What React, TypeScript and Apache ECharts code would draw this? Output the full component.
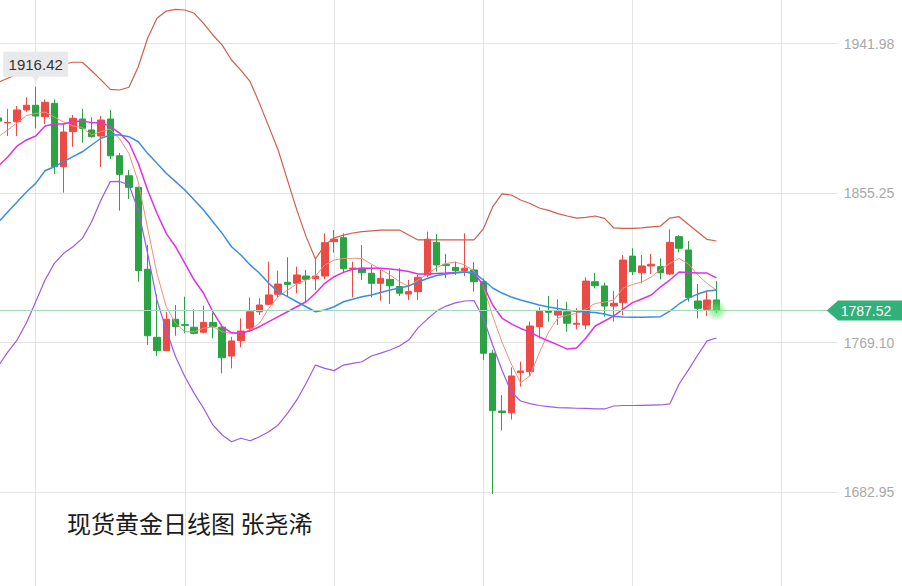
import React, { useEffect, useRef } from "react";
import * as echarts from "echarts";

// [open, close, lowest, highest]
const CANDLES: number[][] = [
  [1898.5, 1896.7, 1896.2, 1899.0],
  [1895.6, 1895.9, 1888.1, 1903.7],
  [1896.3, 1903.1, 1888.1, 1905.4],
  [1903.1, 1905.8, 1902.1, 1910.4],
  [1905.8, 1899.6, 1892.5, 1916.42],
  [1899.2, 1907.5, 1895.0, 1909.2],
  [1906.9, 1870.4, 1866.2, 1909.2],
  [1870.4, 1890.4, 1855.4, 1895.4],
  [1890.6, 1898.3, 1881.9, 1900.2],
  [1897.9, 1892.5, 1884.2, 1903.7],
  [1891.6, 1887.7, 1887.2, 1898.9],
  [1888.1, 1897.3, 1870.1, 1899.6],
  [1897.9, 1876.7, 1874.7, 1903.1],
  [1876.7, 1866.0, 1845.1, 1878.3],
  [1865.2, 1858.5, 1851.8, 1868.5],
  [1858.5, 1810.5, 1804.1, 1858.9],
  [1811.3, 1773.0, 1767.7, 1825.3],
  [1772.1, 1764.4, 1761.3, 1796.9],
  [1764.4, 1782.5, 1764.2, 1786.8],
  [1782.5, 1778.2, 1773.0, 1790.7],
  [1779.4, 1779.0, 1774.4, 1795.5],
  [1777.9, 1774.4, 1773.8, 1788.2],
  [1775.0, 1780.7, 1774.4, 1790.3],
  [1780.7, 1778.2, 1771.5, 1786.3],
  [1777.9, 1760.3, 1751.3, 1778.2],
  [1761.3, 1770.0, 1754.2, 1772.4],
  [1770.1, 1775.7, 1766.3, 1783.0],
  [1777.3, 1786.8, 1775.3, 1795.1],
  [1786.8, 1790.7, 1784.9, 1794.6],
  [1791.1, 1796.5, 1790.7, 1815.7],
  [1796.9, 1802.8, 1795.1, 1810.5],
  [1803.8, 1802.6, 1795.5, 1818.2],
  [1803.2, 1808.0, 1797.5, 1812.8],
  [1807.4, 1805.5, 1792.3, 1810.9],
  [1805.9, 1807.4, 1799.3, 1817.0],
  [1807.4, 1826.6, 1805.5, 1832.0],
  [1827.2, 1828.7, 1820.9, 1833.9],
  [1829.5, 1811.6, 1809.0, 1832.0],
  [1811.5, 1812.0, 1795.1, 1815.7],
  [1811.9, 1809.3, 1805.1, 1825.3],
  [1809.0, 1803.2, 1795.1, 1813.8],
  [1803.2, 1806.1, 1793.2, 1810.9],
  [1805.5, 1801.8, 1791.3, 1810.5],
  [1801.3, 1797.5, 1795.9, 1811.9],
  [1797.0, 1798.4, 1793.6, 1805.1],
  [1798.4, 1806.7, 1793.6, 1808.0],
  [1808.0, 1828.6, 1806.7, 1833.0],
  [1826.8, 1813.8, 1809.9, 1831.6],
  [1814.2, 1813.4, 1806.1, 1820.1],
  [1812.4, 1810.5, 1808.0, 1815.7],
  [1810.5, 1811.9, 1807.4, 1832.0],
  [1810.9, 1804.1, 1798.4, 1815.5],
  [1804.1, 1762.9, 1759.0, 1806.0],
  [1762.9, 1729.8, 1681.8, 1764.8],
  [1729.6, 1728.8, 1718.4, 1738.8],
  [1728.6, 1749.8, 1724.7, 1754.7],
  [1751.7, 1752.7, 1743.7, 1758.0],
  [1752.3, 1778.6, 1749.4, 1781.1],
  [1778.2, 1787.2, 1771.5, 1789.4],
  [1787.2, 1786.5, 1781.1, 1795.9],
  [1784.9, 1787.2, 1779.2, 1794.0],
  [1786.8, 1780.2, 1775.3, 1792.6],
  [1779.6, 1780.2, 1776.7, 1788.8],
  [1779.2, 1804.5, 1776.7, 1806.7],
  [1804.1, 1801.8, 1800.3, 1809.3],
  [1801.7, 1790.1, 1784.0, 1803.6],
  [1790.1, 1791.7, 1781.1, 1798.8],
  [1792.0, 1816.6, 1784.9, 1819.5],
  [1818.9, 1809.9, 1808.0, 1823.4],
  [1809.3, 1813.2, 1803.2, 1819.5],
  [1813.2, 1814.2, 1808.6, 1820.1],
  [1812.8, 1809.3, 1805.5, 1817.6],
  [1808.6, 1826.8, 1808.0, 1834.3],
  [1830.1, 1823.4, 1821.1, 1831.0],
  [1822.4, 1795.1, 1792.6, 1827.6],
  [1793.0, 1788.8, 1783.0, 1802.8],
  [1788.2, 1793.6, 1784.4, 1799.0],
  [1793.6, 1787.52, 1786.1, 1804.5],
];

const MA5 = [
  1887.7, 1891.6, 1895.6, 1899.9, 1901.1, 1901.9, 1899.0, 1896.2, 1893.9, 1893.0,
  1888.7, 1890.6, 1892.1, 1886.4, 1878.1, 1861.6, 1835.1, 1809.0, 1789.7, 1780.2,
  1775.3, 1775.3, 1777.3, 1778.2, 1775.3, 1774.4, 1774.4, 1776.3, 1780.2, 1788.8,
  1795.5, 1799.3, 1802.8, 1805.1, 1807.4, 1813.8, 1816.6, 1817.6, 1817.6, 1817.5,
  1814.3, 1811.2, 1808.0, 1804.2, 1801.4, 1805.1, 1808.6, 1812.3, 1814.6, 1815.5,
  1813.8, 1810.3, 1801.7, 1784.4, 1769.4, 1756.7, 1745.8, 1749.8, 1763.0, 1775.1,
  1783.2, 1784.9, 1785.8, 1788.4, 1791.6, 1792.4, 1793.6, 1800.5, 1802.5, 1804.0,
  1806.8, 1811.2, 1814.6, 1817.5, 1814.3, 1808.0, 1803.1, 1799.3,
];

const MA10 = [
  1870.8, 1876.0, 1882.3, 1885.8, 1888.1, 1893.9, 1895.0, 1895.0, 1896.5, 1896.7,
  1895.8, 1895.8, 1893.5, 1889.8, 1884.2, 1872.4, 1857.0, 1843.6, 1832.0, 1824.3,
  1814.7, 1805.1, 1797.5, 1786.8, 1778.2, 1774.7, 1774.4, 1775.9, 1778.2, 1781.1,
  1784.0, 1786.8, 1789.7, 1792.6, 1797.5, 1803.2, 1807.0, 1809.5, 1811.3, 1811.9,
  1811.9, 1811.9, 1811.5, 1810.9, 1810.0, 1808.6, 1808.6, 1808.9, 1809.1, 1809.4,
  1809.7, 1808.9, 1802.2, 1790.7, 1783.2, 1779.8, 1777.2, 1775.1, 1772.3, 1770.0,
  1767.7, 1765.3, 1765.9, 1771.7, 1778.6, 1781.5, 1784.4, 1788.4, 1792.1, 1794.2,
  1796.5, 1801.1, 1805.1, 1809.7, 1809.4, 1809.1, 1809.1, 1806.3,
];

const BOLL_UPPER = [
  1919.0, 1921.4, 1923.8, 1925.7, 1927.1, 1928.0, 1929.0, 1929.6, 1930.6, 1930.6,
  1925.7, 1920.4, 1915.0, 1914.6, 1916.2, 1928.0, 1944.4, 1955.9, 1960.1, 1961.1,
  1960.7, 1958.8, 1953.0, 1946.3, 1940.5, 1931.9, 1926.1, 1919.4, 1906.9, 1893.5,
  1880.0, 1862.7, 1845.5, 1830.1, 1817.2, 1825.3, 1829.3, 1831.0, 1832.2, 1833.0,
  1833.4, 1833.8, 1833.9, 1833.9, 1831.0, 1828.2, 1828.2, 1828.2, 1828.2, 1828.2,
  1828.2, 1828.2, 1834.5, 1847.2, 1854.7, 1854.1, 1851.2, 1849.2, 1846.6, 1845.2,
  1843.4, 1842.0, 1840.8, 1841.2, 1842.0, 1840.6, 1835.1, 1834.9, 1834.9, 1835.1,
  1835.7, 1836.2, 1840.8, 1841.6, 1837.1, 1832.8, 1828.5, 1827.6,
];

const BOLL_MID = [
  1838.5, 1844.3, 1850.1, 1855.8, 1860.8, 1868.1, 1870.4, 1873.3, 1876.2, 1879.0,
  1882.9, 1886.8, 1888.7, 1888.7, 1887.7, 1884.8, 1878.1, 1872.4, 1866.6, 1861.8,
  1857.0, 1851.2, 1845.5, 1838.7, 1832.0, 1824.3, 1819.5, 1813.8, 1809.0, 1803.2,
  1798.4, 1795.5, 1792.6, 1789.7, 1786.8, 1787.8, 1789.7, 1792.6, 1794.0, 1795.5,
  1796.5, 1797.9, 1799.3, 1800.5, 1801.7, 1804.0, 1806.0, 1807.7, 1808.6, 1809.1,
  1809.7, 1809.4, 1805.1, 1800.5, 1797.6, 1795.3, 1793.6, 1792.1, 1790.7, 1789.6,
  1788.7, 1787.8, 1787.0, 1786.7, 1786.4, 1785.5, 1784.1, 1783.8, 1783.6, 1783.6,
  1783.8, 1784.0, 1787.2, 1791.3, 1794.7, 1797.0, 1798.8, 1799.3,
];

const BOLL_LOWER = [
  1755.6, 1763.6, 1770.5, 1780.3, 1792.6, 1805.1, 1814.7, 1820.5, 1824.3, 1829.1,
  1838.7, 1851.2, 1861.8, 1861.9, 1859.9, 1845.5, 1820.5, 1793.6, 1776.3, 1760.9,
  1749.4, 1739.8, 1731.2, 1721.6, 1715.8, 1711.9, 1713.9, 1712.5, 1714.8, 1717.7,
  1721.6, 1728.3, 1736.0, 1745.6, 1756.1, 1754.2, 1752.9, 1756.1, 1757.1, 1758.0,
  1761.3, 1763.0, 1764.8, 1767.1, 1770.5, 1777.5, 1782.6, 1787.2, 1790.1, 1791.9,
  1793.0, 1793.3, 1783.2, 1767.7, 1753.3, 1740.6, 1735.4, 1733.9, 1732.8, 1732.2,
  1731.6, 1731.4, 1731.2, 1731.1, 1730.9, 1730.8, 1732.5, 1732.8, 1732.8, 1732.9,
  1733.0, 1733.1, 1733.7, 1745.2, 1753.3, 1761.9, 1770.0, 1771.7,
];

const Y_TICK_LABELS = ["1682.95", "1769.10", "1855.25", "1941.98"];
const Y_MIN = 1596.8;
const Y_INTERVAL = 86.15;
const Y_MAX = 2027.55;

const SLOT_COUNT = 91; // trading days incl. empty slots to the right
const CATEGORIES = Array.from({ length: SLOT_COUNT }, (_, i) => `D${i + 1}`);
const LAST_INDEX = CANDLES.length - 1;
const LAST_CLOSE = CANDLES[LAST_INDEX][1];
const TITLE = "现货黄金日线图 张尧浠";

const UP = "#ec4b45";
const DOWN = "#2aa342";
const TAG_GREEN = "#33b07a";
const GRID_COLOR = "#e4e4e4";

export default function App() {
  const ref = useRef<HTMLDivElement>(null);

  useEffect(() => {
    const chart = echarts.init(ref.current!, null, { renderer: "svg" });
    const lineSeries = (name: string, data: number[], color: string, width: number) => ({
      name,
      type: "line",
      data,
      symbol: "none",
      smooth: false,
      silent: true,
      lineStyle: { color, width },
      z: 3,
    });

    const option: any = {
      animation: false,
      backgroundColor: "#ffffff",
      title: {
        text: TITLE,
        left: 62,
        top: 505,
        textStyle: {
          fontSize: 24,
          fontWeight: "normal",
          color: "#1c1c1c",
          fontFamily: '"Noto Sans CJK SC", sans-serif',
        },
      },
      grid: {
        left: -1.6,
        right: 64.35,
        top: -106,
        bottom: -55.5,
        containLabel: false,
        outerBoundsMode: "none",
      },
      xAxis: {
        type: "category",
        data: CATEGORIES,
        boundaryGap: false,
        axisLine: { show: false },
        axisTick: { show: false },
        axisLabel: { show: false },
        splitLine: {
          show: true,
          interval: (i: number) => i % 16 === 4,
          lineStyle: { color: GRID_COLOR, width: 1 },
        },
      },
      yAxis: {
        type: "value",
        position: "right",
        min: Y_MIN,
        max: Y_MAX,
        interval: Y_INTERVAL,
        axisLine: { show: false },
        axisTick: { show: false },
        splitLine: { show: true, lineStyle: { color: GRID_COLOR, width: 1 } },
        axisLabel: {
          show: true,
          margin: 6,
          color: "#a8a8a8",
          fontSize: 14,
          fontFamily: "Arial, 'Liberation Sans', sans-serif",
          formatter: (v: number) => {
            const hit = Y_TICK_LABELS.find((s) => Math.abs(parseFloat(s) - v) < 1);
            return hit || "";
          },
        },
      },
      series: [
        {
          name: "K",
          type: "candlestick",
          data: CANDLES,
          barWidth: 7,
          z: 2,
          itemStyle: {
            color: UP,
            color0: DOWN,
            borderColor: UP,
            borderColor0: DOWN,
            borderWidth: 1,
          },
          markPoint: {
            silent: true,
            symbol: "path://M0,0L65,0L65,25L36,25L32.5,30L29,25L0,25Z",
            symbolSize: [65, 30],
            symbolOffset: [0, -20],
            itemStyle: { color: "#e8e9eb" },
            label: {
              show: true,
              position: "inside",
              offset: [0, -2.5],
              color: "#333333",
              fontSize: 15,
              fontFamily: "Arial, 'Liberation Sans', sans-serif",
              formatter: (p: any) => Number(p.value).toFixed(2),
            },
            data: [{ type: "max", valueDim: "highest" }],
          },
          markLine: {
            silent: true,
            symbol: ["none", "none"],
            lineStyle: { color: "#a4d9be", width: 1, type: "solid" },
            label: {
              show: true,
              position: "end",
              distance: 0,
              formatter: LAST_CLOSE.toFixed(2),
              color: "#ffffff",
              fontSize: 14,
              lineHeight: 14,
              fontFamily: "Arial, 'Liberation Sans', sans-serif",
              backgroundColor: TAG_GREEN,
              padding: [3, 14, 3, 3],
            },
            data: [{ yAxis: LAST_CLOSE }],
          },
        },
        lineSeries("UP", BOLL_UPPER, "#cf5f4b", 1.2),
        lineSeries("MA5", MA5, "#f2907e", 1),
        lineSeries("MA10", MA10, "#e22fe2", 1.5),
        lineSeries("MID", BOLL_MID, "#3b8de3", 1.5),
        lineSeries("DN", BOLL_LOWER, "#9b5be6", 1.2),
        {
          name: "last",
          type: "scatter",
          silent: true,
          data: [[LAST_INDEX, LAST_CLOSE]],
          symbolSize: 22,
          z: 5,
          itemStyle: {
            color: new echarts.graphic.RadialGradient(0.5, 0.5, 0.5, [
              { offset: 0, color: "rgba(100,225,110,0.95)" },
              { offset: 0.45, color: "rgba(100,225,110,0.6)" },
              { offset: 1, color: "rgba(100,225,110,0)" },
            ]),
          },
        },
      ],
    };

    chart.setOption(option);
    const y = chart.convertToPixel({ yAxisIndex: 0 }, LAST_CLOSE) as number;
    const xr = chart.convertToPixel({ xAxisIndex: 0 }, SLOT_COUNT - 1) as number;
    chart.setOption({
      graphic: [
        {
          type: "polygon",
          silent: true,
          z: 100,
          shape: { points: [[xr - 11, y], [xr + 0.5, y - 10], [xr + 0.5, y + 10]] },
          style: { fill: TAG_GREEN },
        },
      ],
    });

    return () => chart.dispose();
  }, []);

  return (
    <div
      ref={ref}
      style={{ position: "absolute", left: 0, top: 0, width: 902, height: 586 }}
    />
  );
}
